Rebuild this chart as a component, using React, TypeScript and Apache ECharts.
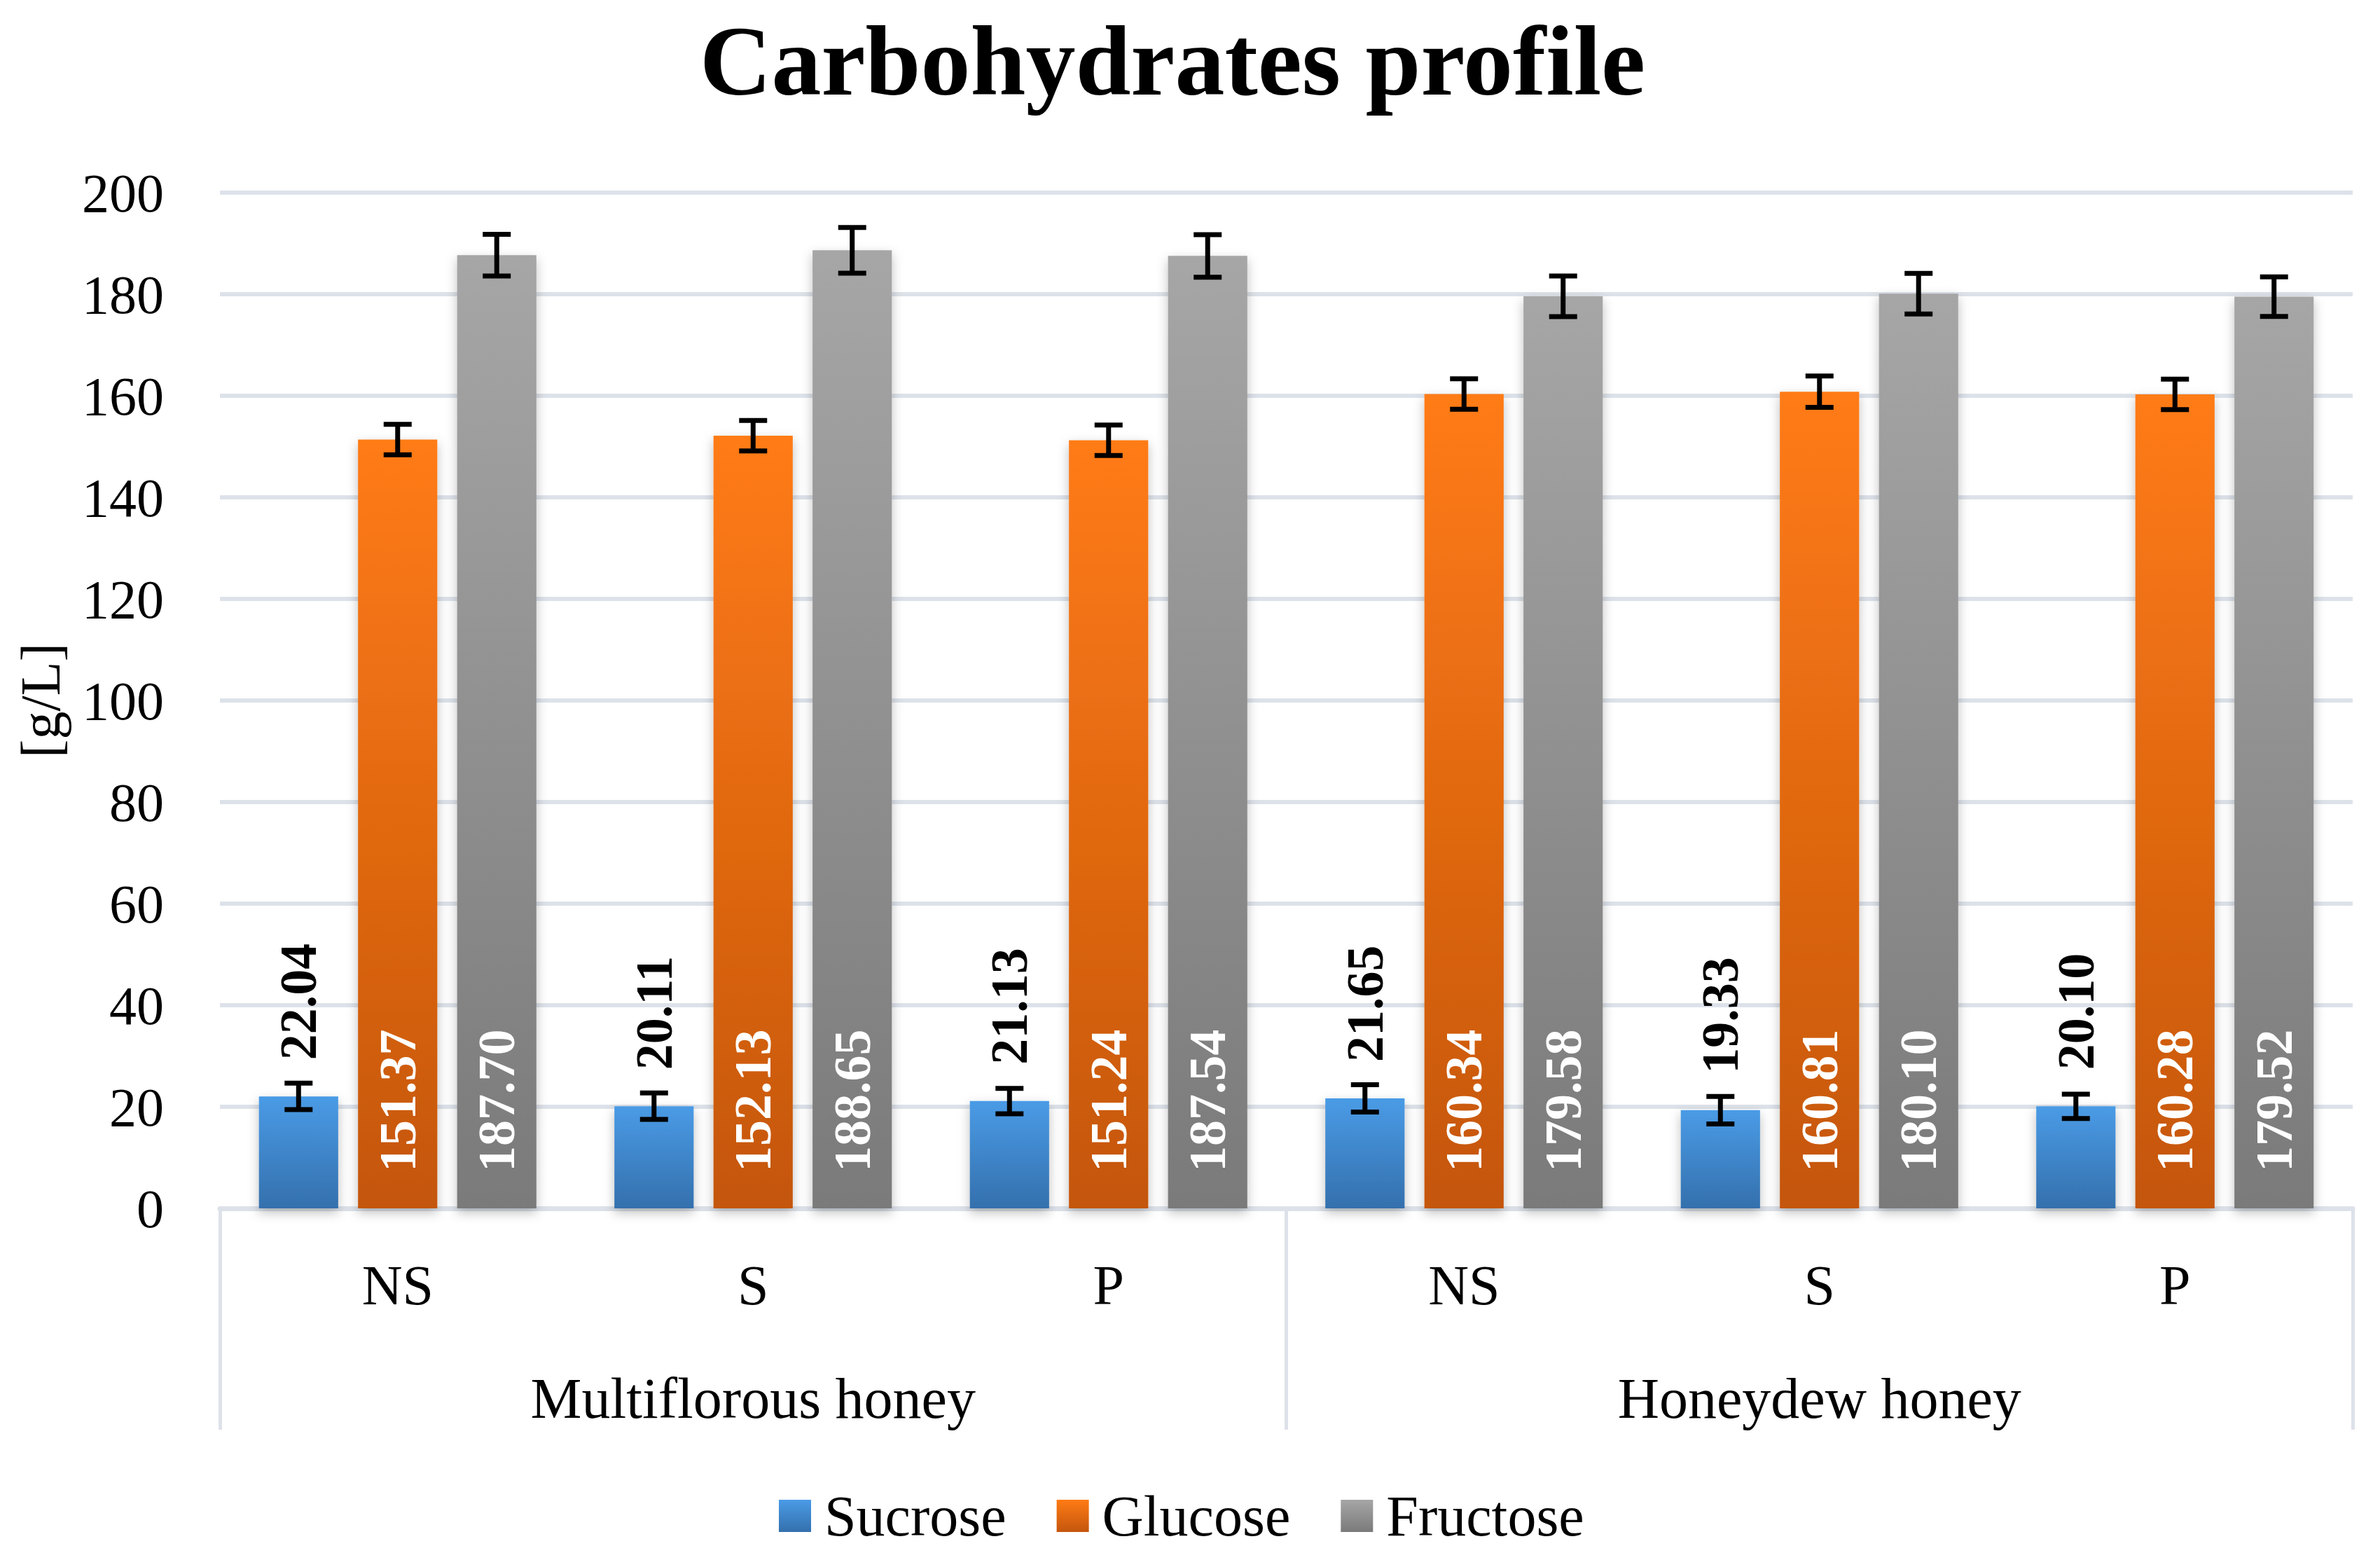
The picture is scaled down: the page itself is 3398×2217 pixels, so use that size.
import React, { useEffect, useRef } from "react";
import * as echarts from "echarts";

const subCategories = ["NS", "S", "P", "NS", "S", "P"];
const groupCategories = ["Multiflorous honey", "Honeydew honey"];
const seriesNames = ["Sucrose", "Glucose", "Fructose"];
const sucrose = [22.04, 20.11, 21.13, 21.65, 19.33, 20.1];
const glucose = [151.37, 152.13, 151.24, 160.34, 160.81, 160.28];
const fructose = [187.7, 188.65, 187.54, 179.58, 180.1, 179.52];
const sucroseErr = [2.6, 2.6, 2.5, 2.7, 2.7, 2.4];
const glucoseErr = [3.0, 3.0, 3.0, 3.0, 3.1, 3.0];
const fructoseErr = [4.1, 4.5, 4.2, 4.0, 4.0, 3.9];
const yTicks = { min: 0, max: 200, interval: 20 };

const FONT = "'Liberation Serif', 'Times New Roman', serif";
const GRID_COLOR = "#dde2ea";
const BAR_W_RATIO = 0.223;
const BAR_GAP_RATIO = 0.25;

const gradients = [
  ["#4a9be6", "#3470ad"],
  ["#ff7b14", "#c4560e"],
  ["#a6a6a6", "#7a7a7a"],
];

export default function App() {
  const ref = useRef<HTMLDivElement>(null);
  useEffect(() => {
    if (!ref.current) return;
    const chart = echarts.init(ref.current, undefined, { renderer: "svg" });
    const values = [sucrose, glucose, fructose];
    const errs = [sucroseErr, glucoseErr, fructoseErr];

    const barSeries = values.map((vals, i) => ({
      name: seriesNames[i],
      type: "bar",
      data: vals,
      barWidth: BAR_W_RATIO * 100 + "%",
      barGap: BAR_GAP_RATIO * 100 + "%",
      itemStyle: {
        color: new echarts.graphic.LinearGradient(0, 0, 0, 1, [
          { offset: 0, color: gradients[i][0] },
          { offset: 1, color: gradients[i][1] },
        ]),
        shadowBlur: 16,
        shadowOffsetY: 6,
        shadowColor: "rgba(0,0,0,0.25)",
      },
      label: {
        show: true,
        position: i === 0 ? "top" : "insideBottom",
        distance: 52,
        rotate: 90,
        align: "left",
        verticalAlign: "middle",
        formatter: (p: any) => Number(p.value).toFixed(2),
        fontFamily: FONT,
        fontSize: 74,
        fontWeight: "bold",
        color: i === 0 ? "#000" : "#fff",
      },
      z: 2,
    }));

    const errSeries = values.map((vals, i) => ({
      type: "custom",
      name: seriesNames[i] + " error",
      data: vals.map((v, k) => [k, v - errs[i][k], v + errs[i][k]]),
      encode: { x: 0, y: [1, 2] },
      z: 10,
      silent: true,
      renderItem: (params: any, api: any) => {
        const x = api.value(0);
        const lo = api.coord([x, api.value(1)]);
        const hi = api.coord([x, api.value(2)]);
        const band = api.size([1, 0])[0];
        const bw = band * BAR_W_RATIO;
        const cx = lo[0] + (i - 1) * bw * (1 + BAR_GAP_RATIO);
        const half = 20;
        const style = { stroke: "#000", lineWidth: 7 };
        return {
          type: "group",
          children: [
            { type: "line", shape: { x1: cx, y1: lo[1], x2: cx, y2: hi[1] }, style },
            { type: "line", shape: { x1: cx - half, y1: hi[1], x2: cx + half, y2: hi[1] }, style },
            { type: "line", shape: { x1: cx - half, y1: lo[1], x2: cx + half, y2: lo[1] }, style },
          ],
        };
      },
    }));

    chart.setOption({
      animation: false,
      backgroundColor: "#fff",
      graphic: [
        {
          type: "text",
          x: 1674,
          y: 87,
          style: {
            text: "Carbohydrates profile",
            fontFamily: FONT,
            fontSize: 142,
            fontWeight: "bold",
            fill: "#000",
            align: "center",
            verticalAlign: "middle",
          },
        },
      ],
      grid: { left: 314, top: 275, width: 3045, height: 1450, containLabel: false },
      legend: {
        data: seriesNames,
        top: 2118,
        left: 1107,
        itemWidth: 46,
        itemHeight: 46,
        itemGap: 72,
        icon: "rect",
        textStyle: { fontFamily: FONT, fontSize: 82, color: "#000", padding: [0, 0, 0, 14] },
      },
      xAxis: [
        {
          type: "category",
          data: subCategories,
          position: "bottom",
          axisLine: { show: true, lineStyle: { color: GRID_COLOR, width: 7 } },
          axisTick: { show: false },
          axisLabel: { fontFamily: FONT, fontSize: 80, color: "#000", margin: 70, interval: 0 },
          splitLine: { show: false },
          z: 1,
        },
        {
          type: "category",
          data: groupCategories,
          position: "bottom",
          offset: 0,
          axisLine: { show: false },
          axisTick: { show: true, length: 316, interval: 0, lineStyle: { color: GRID_COLOR, width: 5 } },
          axisLabel: { fontFamily: FONT, fontSize: 82, color: "#000", margin: 230, interval: 0 },
          splitLine: { show: false },
        },
      ],
      yAxis: {
        type: "value",
        min: yTicks.min,
        max: yTicks.max,
        interval: yTicks.interval,
        name: "[g/L]",
        nameLocation: "middle",
        nameRotate: 90,
        nameGap: 216,
        nameTextStyle: { fontFamily: FONT, fontSize: 80, color: "#000" },
        axisLine: { show: false },
        axisTick: { show: false },
        axisLabel: { fontFamily: FONT, fontSize: 78, color: "#000", margin: 80 },
        splitLine: { show: true, lineStyle: { color: GRID_COLOR, width: 6 } },
      },
      series: [...barSeries, ...errSeries],
    });
    return () => chart.dispose();
  }, []);
  return (
    <div
      ref={ref}
      style={{ position: "absolute", left: 0, top: 0, width: "3398px", height: "2217px" }}
    />
  );
}
